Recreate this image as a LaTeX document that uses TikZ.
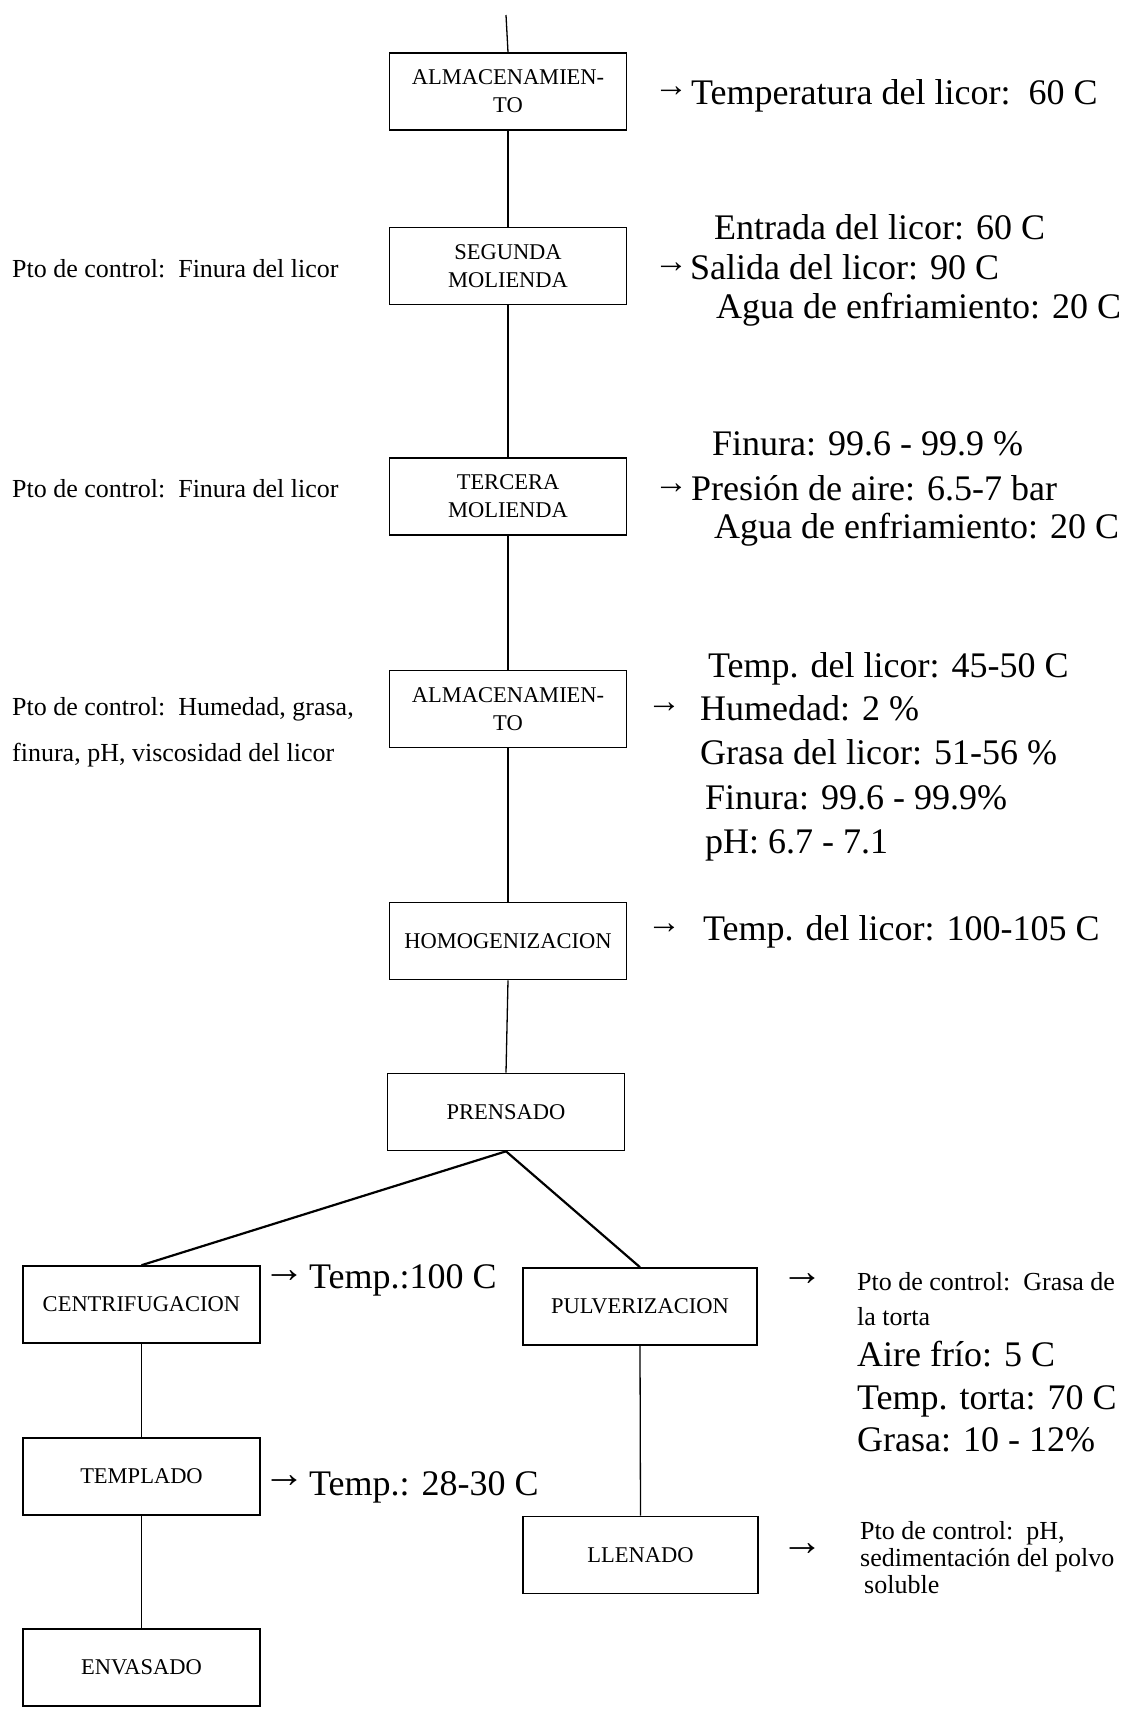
\documentclass[tikz,border=0pt]{standalone}
\usepackage{fontspec}
\setmainfont{Liberation Serif}
\tikzset{
  box/.style={draw, line width=1.6pt, minimum width=237pt, minimum height=77pt, align=center, inner sep=0pt, font=\fontsize{22.5}{28}\selectfont},
  big/.style={anchor=west, inner sep=0pt, text height=24pt, text depth=0pt, font=\fontsize{36}{40}\selectfont},
  small/.style={anchor=west, inner sep=0pt, text height=18pt, text depth=0pt, font=\fontsize{26}{30}\selectfont},
  arr/.style={anchor=center, inner sep=0pt, font=\fontsize{34}{34}\selectfont},
  arrl/.style={anchor=center, inner sep=0pt, font=\fontsize{42}{42}\selectfont},
  link/.style={line width=1.3pt},
  diag/.style={line width=2.2pt}
}
\newcommand{\rarr}{\makebox[14pt][c]{→}}
\begin{document}
\begin{tikzpicture}[x=1pt,y=-1pt]
\useasboundingbox (0,0) rectangle (1139,1709);
% boxes
\node[box] (b1) at (508,91.5) {ALMACENAMIEN-\\TO};
\node[box] (b2) at (508,266) {SEGUNDA\\MOLIENDA};
\node[box] (b3) at (508,496.5) {TERCERA\\MOLIENDA};
\node[box] (b4) at (508,709) {ALMACENAMIEN-\\TO};
\node[box] (b5) at (508,941) {HOMOGENIZACION};
\node[box] (b6) at (506,1112) {PRENSADO};
\node[box] (b7) at (141.5,1304.5) {CENTRIFUGACION};
\node[box, minimum width=234pt] (b8) at (640,1306.5) {PULVERIZACION};
\node[box] (b9) at (141.5,1476.5) {TEMPLADO};
\node[box, minimum width=235pt] (b10) at (640.5,1555) {LLENADO};
\node[box] (b11) at (141.5,1667.5) {ENVASADO};
% connectors
\coordinate (top) at (506,15);
\draw[link] (top) -- (b1.north);
\draw[link] (b1.south) -- (b2.north);
\draw[link] (b2.south) -- (b3.north);
\draw[link] (b3.south) -- (b4.north);
\draw[link] (b4.south) -- (b5.north);
\draw[link] (b5.south) -- (b6.north);
\draw[diag] (b6.south) -- (b7.north);
\draw[diag] (b6.south) -- (b8.north);
\draw[link] (b7.south) -- (b9.north);
\draw[link] (b9.south) -- (b11.north);
\draw[link] (b8.south) -- (b10.north);
% row 1
\node[arr] (a1) at (671,92) {\rarr};
\node[big] (t1) at (691,92) {Temperatura del licor:\ \ 60 C};
% row 2
\node[small] (l2) at (12,268) {Pto de control:\ \ Finura del licor};
\node[big] (t2a) at (714,227) {Entrada del licor: 60 C};
\node[arr] (a2) at (671,268) {\rarr};
\node[big] (t2b) at (690,267) {Salida del licor: 90 C};
\node[big] (t2c) at (716,306) {Agua de enfriamiento: 20 C};
% row 3
\node[small] (l3) at (12,488) {Pto de control:\ \ Finura del licor};
\node[big] (t3a) at (712,443) {Finura: 99.6 - 99.9 \%};
\node[arr] (a3) at (671,489) {\rarr};
\node[big] (t3b) at (691,488) {Presión de aire: 6.5-7 bar};
\node[big] (t3c) at (714,526) {Agua de enfriamiento: 20 C};
% row 4
\node[small] (l4a) at (12,706) {Pto de control:\ \ Humedad, grasa,};
\node[small] (l4b) at (12,752) {finura, pH, viscosidad del licor};
\node[big] (t4a) at (708,665) {Temp. del licor: 45-50 C};
\node[arr] (a4) at (664,708) {\rarr};
\node[big] (t4b) at (700,708) {Humedad: 2 \%};
\node[big] (t4c) at (700,752) {Grasa del licor: 51-56 \%};
\node[big] (t4d) at (705,797) {Finura: 99.6 - 99.9\%};
\node[big] (t4e) at (705,841) {pH: 6.7 - 7.1};
% row 5
\node[arr] (a5) at (664,929) {\rarr};
\node[big] (t5) at (703,928) {Temp. del licor: 100-105 C};
% lower part
\node[arrl] (a7) at (284,1277) {\rarr};
\node[big] (t7) at (309,1276) {Temp.:100 C};
\node[arrl] (a8) at (802,1280) {\rarr};
\node[small] (t8a) at (857,1281) {Pto de control:\ \ Grasa de};
\node[small] (t8b) at (857,1316) {la torta};
\node[big] (t8c) at (857,1354) {Aire frío: 5 C};
\node[big] (t8d) at (857,1397) {Temp. torta: 70 C};
\node[big] (t8e) at (857,1439) {Grasa: 10 - 12\%};
\node[arrl] (a9) at (284,1482) {\rarr};
\node[big] (t9) at (309,1483) {Temp.: 28-30 C};
\node[arrl] (a10) at (802,1550) {\rarr};
\node[small] (t10a) at (860,1530) {Pto de control:\ \ pH,};
\node[small] (t10b) at (860,1557) {sedimentación del polvo};
\node[small] (t10c) at (864,1584) {soluble};
\end{tikzpicture}
\end{document}
